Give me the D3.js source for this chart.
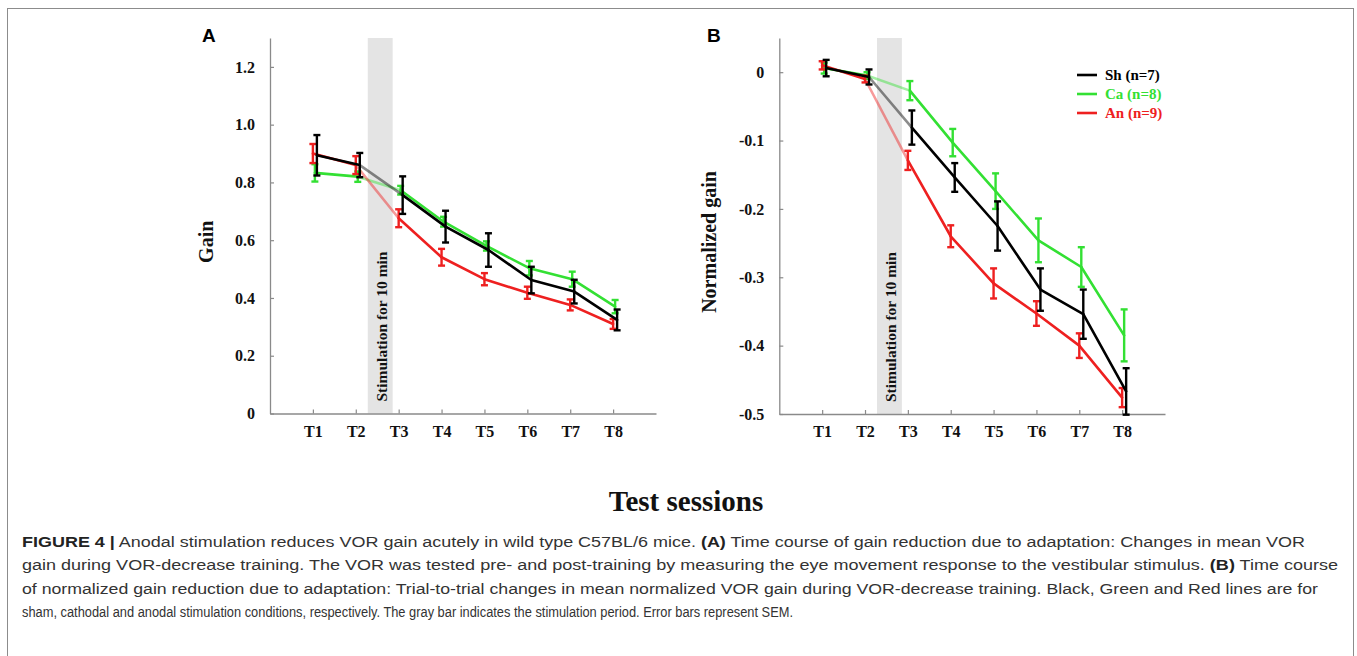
<!DOCTYPE html>
<html><head><meta charset="utf-8">
<script src="https://cdn.jsdelivr.net/npm/d3@7"></script>
<style>body{margin:0;background:#fff} svg{display:block}</style>
</head><body><svg id="c" width="1357" height="656"></svg>
<script>
// ---------- DATA ----------
const sessions = ["T1","T2","T3","T4","T5","T6","T7","T8"];
const seriesNames = ["Sh (n=7)","Ca (n=8)","An (n=9)"];
// Panel A : gain (mean, SEM)
const gainSh    = [0.894,0.860,0.756,0.647,0.566,0.462,0.422,0.324];
const gainShSem = [0.070,0.042,0.065,0.055,0.058,0.046,0.041,0.036];
const gainCa    = [0.833,0.820,0.773,0.664,0.580,0.503,0.465,0.370];
const gainCaSem = [0.030,0.018,0.015,0.017,0.016,0.025,0.026,0.023];
const gainAn    = [0.900,0.860,0.676,0.541,0.465,0.418,0.376,0.310];
const gainAnSem = [0.033,0.031,0.031,0.029,0.021,0.021,0.019,0.017];
// Panel B : normalized gain (mean, SEM)
const normSh    = [0.006,-0.007,-0.081,-0.154,-0.225,-0.318,-0.354,-0.467];
const normShSem = [0.012,0.011,0.025,0.021,0.036,0.031,0.036,0.034];
const normCa    = [0.006,-0.005,-0.027,-0.103,-0.174,-0.246,-0.285,-0.385];
const normCaSem = [0.008,0.005,0.014,0.020,0.026,0.032,0.029,0.038];
const normAn    = [0.010,-0.010,-0.129,-0.240,-0.309,-0.353,-0.400,-0.476];
const normAnSem = [0.006,0.005,0.014,0.016,0.022,0.018,0.018,0.014];
const gainTicks = [0,0.2,0.4,0.6,0.8,1.0,1.2];
const gainTickLabels = ["0","0.2","0.4","0.6","0.8","1.0","1.2"];
const normTicks = [0,-0.1,-0.2,-0.3,-0.4,-0.5];
const normTickLabels = ["0","-0.1","-0.2","-0.3","-0.4","-0.5"];
const stimPeriod = [2.28, 2.86];   // in session units (T1 = 1)
const stimLabel = "Stimulation for 10 min";
const xTitle = "Test sessions";
const captionLines = [
  [["FIGURE 4 |",true],[" Anodal stimulation reduces VOR gain acutely in wild type C57BL/6 mice. ",false],["(A)",true],[" Time course of gain reduction due to adaptation: Changes in mean VOR",false]],
  [["gain during VOR-decrease training. The VOR was tested pre- and post-training by measuring the eye movement response to the vestibular stimulus. ",false],["(B)",true],[" Time course",false]],
  [["of normalized gain reduction due to adaptation: Trial-to-trial changes in mean normalized VOR gain during VOR-decrease training. Black, Green and Red lines are for",false]],
  [["sham, cathodal and anodal stimulation conditions, respectively. The gray bar indicates the stimulation period. Error bars represent SEM.",false]]
];

// ---------- STYLE ----------
const colors = ["#000000","#33e033","#ee2020"];
const offsets = [4, 2, 0];            // small horizontal jitter of each series (px)
const drawOrder = [1, 2, 0];
const serif = "'Liberation Serif','Times New Roman',serif";
const sans = "'Liberation Sans',Arial,sans-serif";

const svg = d3.select("#c");
svg.append("rect").attr("x",7.5).attr("y",8.5).attr("width",1346).attr("height",720)
  .attr("fill","none").attr("stroke","#8c8c8c").attr("stroke-width",1);

function panel(o){
  const g = svg.append("g");
  const x = d3.scaleLinear().domain([0, 9]).range([o.x0, o.x1]);
  const y = d3.scaleLinear().domain(o.domain).range([o.yBot, o.yTop]);

  // stimulation band
  g.append("rect").attr("x", x(stimPeriod[0])).attr("width", x(stimPeriod[1]) - x(stimPeriod[0]))
    .attr("y", o.yTop).attr("height", o.yBot - o.yTop).attr("fill", "#e4e4e4");
  g.append("text")
    .attr("transform", `translate(${(x(stimPeriod[0])+x(stimPeriod[1]))/2 + 1},${o.yBot - 12}) rotate(-90)`)
    .attr("dy","0.35em").attr("text-anchor","start")
    .style("font-family", serif).style("font-weight","bold").style("font-size","15.5px").attr("fill","#111")
    .text(stimLabel);

  // axes
  const xa = g.append("g").attr("transform", `translate(0,${o.yBot})`)
    .call(d3.axisBottom(x).tickValues(d3.range(1,9)).tickFormat(i => sessions[i-1])
      .tickSizeInner(-4).tickSizeOuter(0).tickPadding(12));
  const ya = g.append("g").attr("transform", `translate(${o.x0},0)`)
    .call(d3.axisLeft(y).tickValues(o.ticks).tickFormat((d,i) => o.tickLabels[i])
      .tickSizeInner(-4).tickSizeOuter(0).tickPadding(o.pad));
  [xa, ya].forEach(a => {
    a.select(".domain").attr("stroke","#8a8a8a").attr("stroke-width",1.3);
    a.selectAll(".tick line").attr("stroke","#8a8a8a").attr("stroke-width",1.2);
    a.selectAll("text").style("font-family", serif).style("font-weight","bold")
      .style("font-size","16px").attr("fill","#111");
  });

  // series
  const line = d3.line().x(d => d.x).y(d => d.y);
  drawOrder.forEach(s => {
    const vals = o.values[s], sems = o.sems[s];
    const pts = vals.map((v,i) => ({x: x(i+1) + offsets[s], y: y(v), v, e: sems[i]}));
    for (let i = 0; i < pts.length - 1; i++) {
      g.append("path").attr("d", line([pts[i], pts[i+1]]))
        .attr("fill","none").attr("stroke", colors[s]).attr("stroke-width", 2.6)
        .attr("stroke-opacity", i === 1 ? 0.45 : 1).attr("stroke-linecap","round");
    }
    const eb = g.append("g").attr("stroke", colors[s]).attr("stroke-width", 2.4);
    pts.forEach(p => {
      const yt = y(p.v + p.e), yb = y(p.v - p.e);
      eb.append("line").attr("x1",p.x).attr("x2",p.x).attr("y1",yt).attr("y2",yb);
      eb.append("line").attr("x1",p.x-3.5).attr("x2",p.x+3.5).attr("y1",yt).attr("y2",yt);
      eb.append("line").attr("x1",p.x-3.5).attr("x2",p.x+3.5).attr("y1",yb).attr("y2",yb);
    });
  });

  // y title
  g.append("text").attr("transform", `translate(${o.ylabelX},${(o.yTop+o.yBot)/2 + 16}) rotate(-90)`)
    .attr("text-anchor","middle").attr("dy","0.35em")
    .style("font-family", serif).style("font-weight","bold").style("font-size","20px").attr("fill","#111")
    .text(o.ylabel);
  // panel letter
  g.append("text").attr("x", o.letterX).attr("y", 42)
    .style("font-family", sans).style("font-weight","bold").style("font-size","19px").attr("fill","#000")
    .text(o.letter);
  return {x, y};
}

panel({x0:270, x1:656, yTop:38, yBot:413.5, domain:[0,1.3], ticks:gainTicks, tickLabels:gainTickLabels,
  pad:15, values:[gainSh,gainCa,gainAn], sems:[gainShSem,gainCaSem,gainAnSem],
  ylabel:"Gain", ylabelX:206, letter:"A", letterX:202});
panel({x0:779.3, x1:1165, yTop:38, yBot:414, domain:[-0.5,0.05], ticks:normTicks, tickLabels:normTickLabels,
  pad:15, values:[normSh,normCa,normAn], sems:[normShSem,normCaSem,normAnSem],
  ylabel:"Normalized gain", ylabelX:709, letter:"B", letterX:707});

// legend (panel B)
const lg = svg.append("g");
seriesNames.forEach((n,i) => {
  const yy = 75 + i*19;
  lg.append("line").attr("x1",1077).attr("x2",1097).attr("y1",yy).attr("y2",yy)
    .attr("stroke",colors[i]).attr("stroke-width",2.6);
  lg.append("text").attr("x",1105).attr("y",yy).attr("dy","0.35em")
    .style("font-family", serif).style("font-weight","bold").style("font-size","15px")
    .attr("fill",colors[i]).text(n);
});

// x title
svg.append("text").attr("x",686).attr("y",511).attr("text-anchor","middle")
  .style("font-family", serif).style("font-weight","bold").style("font-size","29px").attr("fill","#111")
  .text(xTitle);

// caption
const capEnds = [1305, 1338, 1318, 793];
captionLines.forEach((parts, li) => {
  const t = svg.append("text").attr("x",22).attr("y",547 + li*23.3)
    .attr("textLength", capEnds[li]-22).attr("lengthAdjust","spacingAndGlyphs")
    .style("font-family", sans).style("font-size","15.5px").attr("fill","#333");
  parts.forEach(([s,b]) => t.append("tspan").style("font-weight", b ? "bold" : "normal")
    .attr("fill", b ? "#222" : "#333").text(s));
});
</script></body></html>
